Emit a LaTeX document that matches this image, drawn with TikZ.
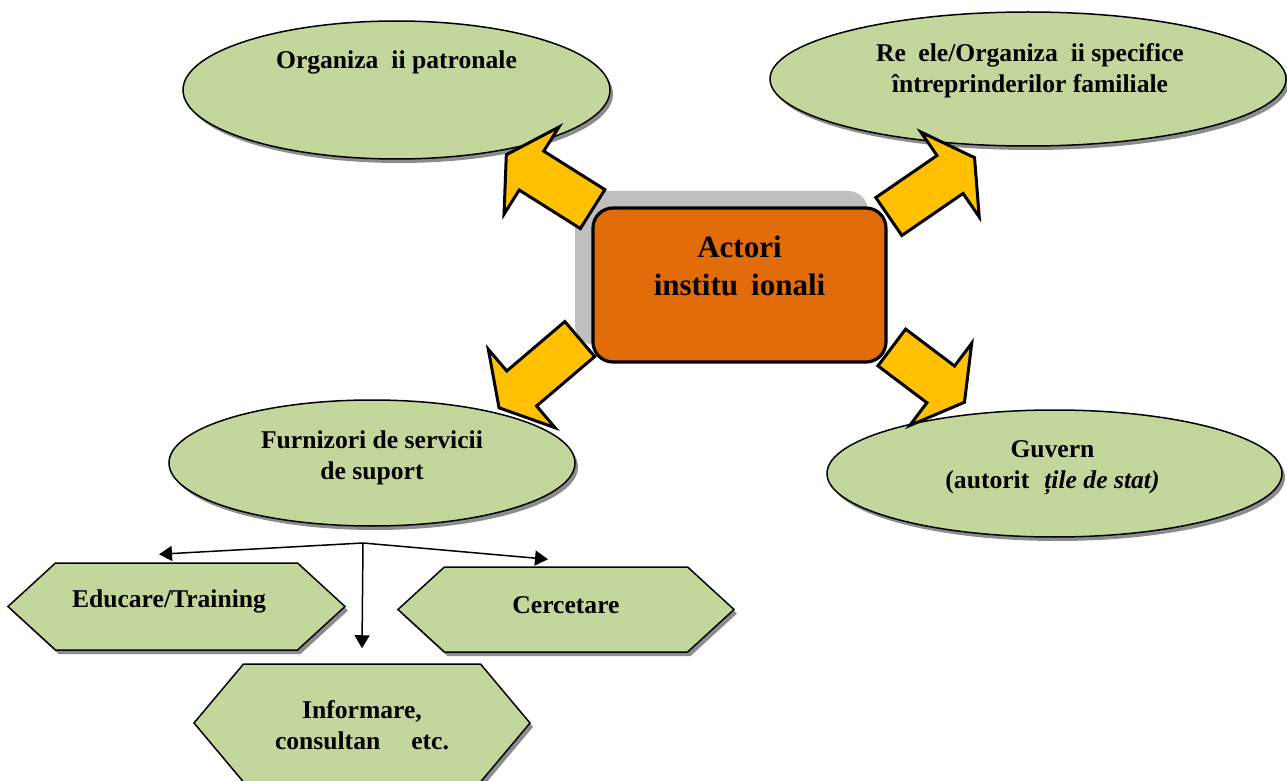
\documentclass[tikz,border=0pt]{standalone}
\usepackage{fontspec}
\setmainfont{Liberation Serif}
\usepackage{tikz}
\usetikzlibrary{arrows.meta,shapes.geometric,shapes.symbols,shapes.arrows,shadows,positioning}
\definecolor{olivfill}{HTML}{C3D69B}
\definecolor{actorfill}{HTML}{E36C0A}
\definecolor{arrowfill}{HTML}{FFC000}
\tikzset{
  oval/.style={ellipse,draw=black,line width=0.75pt,fill=olivfill,inner sep=0pt,
    drop shadow={shadow xshift=1.5pt,shadow yshift=-2pt,fill=black!45,opacity=1}},
  hexa/.style={signal,signal to=west and east,draw=black,line width=0.75pt,fill=olivfill,inner sep=0pt,
    drop shadow={shadow xshift=1.5pt,shadow yshift=-2pt,fill=black!45,opacity=1}},
  actorbox/.style={rectangle,rounded corners=10pt,draw=black,line width=1.6pt,fill=actorfill,
    minimum width=146.5pt,minimum height=77pt,
    drop shadow={shadow xshift=-9pt,shadow yshift=8.5pt,fill=black!25,opacity=1}},
  txt/.style={align=center,font=\fontsize{12.8pt}{15.4pt}\selectfont\bfseries},
  bigtxt/.style={align=center,font=\fontsize{15.5pt}{18.8pt}\selectfont\bfseries},
  blockarrow/.style={single arrow,draw=black,line width=1.5pt,fill=arrowfill,inner sep=10.75pt,
    minimum width=50pt,single arrow head extend=14.25pt,single arrow tip angle=120,anchor=tail},
  thinarrow/.style={line width=0.75pt,-{Triangle[length=6.5pt,width=7.5pt]}}
}
\begin{document}
\begin{tikzpicture}[x=0.5pt,y=-0.5pt]
\useasboundingbox (0,0) rectangle (1287,781);
\node[oval,minimum width=213.5pt,minimum height=69pt] (patronale) at (396.5,90) {};
\node[oval,minimum width=258pt,minimum height=67pt] (familiale) at (1028,79) {};
\node[oval,minimum width=203pt,minimum height=63pt] (furnizori) at (372,463) {};
\node[oval,minimum width=227.5pt,minimum height=63.5pt] (guvern) at (1054.5,473.5) {};
\node[txt] (patronaletxt) at ([yshift=14pt]patronale.center) {Organiza\hspace{6.5pt}ii patronale};
\node[txt] (familialetxt) at ([xshift=1pt,yshift=4.25pt]familiale.center) {Re\hspace{6.2pt}ele/Organiza\hspace{6.5pt}ii specifice\\întreprinderilor familiale};
\node[txt] (furnizoritxt) at ([yshift=2.5pt]furnizori.center) {Furnizori de servicii\\de suport};
\node[txt] (guverntxt) at ([xshift=-1pt,yshift=3pt]guvern.center) {Guvern\\(autorit\hspace{7.5pt}\textit{țile de stat)}};

\node[actorbox] (actori) at (739.5,285) {};
\node[bigtxt] (actoritxt) at ([yshift=9.5pt]actori.center) {Actori\\institu\hspace{6.5pt}ionali};

\node[blockarrow,minimum height=51pt,rotate=147.8] (spatronale) at ([xshift=1.25pt,yshift=-1.75pt]actori.north west) {};
\node[blockarrow,minimum height=52pt,rotate=34.5] (sfamiliale) at ([yshift=-5.5pt]actori.north east) {};
\node[blockarrow,minimum height=53pt,rotate=220.4] (sfurnizori) at ([xshift=-5.25pt,yshift=12.75pt]actori.south west) {};
\node[blockarrow,minimum height=45.5pt,rotate=-37] (sguvern) at ([xshift=1.5pt,yshift=8.5pt]actori.south east) {};

\node[hexa,signal pointer angle=85,minimum width=168.5pt,minimum height=43.5pt] (training) at (176.5,606.5) {};
\node[hexa,signal pointer angle=85,minimum width=168pt,minimum height=42.5pt] (cercetare) at (566,609.5) {};
\node[hexa,signal pointer angle=100,minimum width=168pt,minimum height=59pt] (informare) at (362,723) {};
\node[txt] (trainingtxt) at ([xshift=-3.75pt,yshift=2.4pt]training.center) {Educare/Training};
\node[txt] (cercetaretxt) at ([yshift=2.25pt]cercetare.center) {Cercetare};
\node[txt] (informaretxt) at ([yshift=-1pt]informare.center) {Informare,\\consultan\hspace{15.5pt}etc.};

\coordinate (split) at (363,543);
\draw[thinarrow] (split) -- ([xshift=-8.75pt,yshift=4pt]training.north);
\draw[thinarrow] (split) -- ([xshift=-9pt,yshift=3.5pt]cercetare.north);
\draw[thinarrow] (split) -- ([yshift=7.5pt]informare.north);
\end{tikzpicture}
\end{document}
